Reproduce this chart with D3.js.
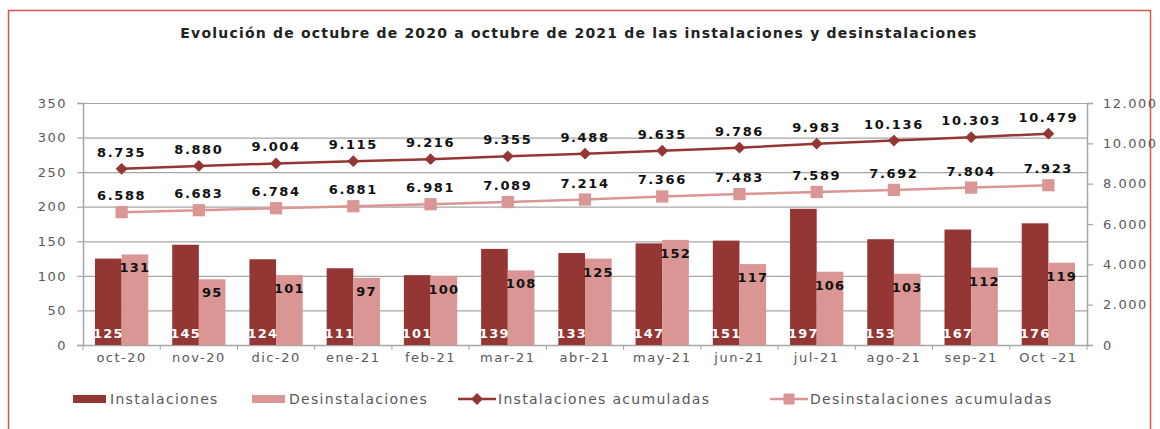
<!DOCTYPE html>
<html>
<head>
<meta charset="utf-8">
<script src="https://cdn.jsdelivr.net/npm/d3@7"></script>
<style>
  body { margin: 0; background: #fff; }
  svg { font-family: "DejaVu Sans", sans-serif; }
</style>
</head>
<body>
<div id="chart"></div>
<script>
// data
const categories = ["oct-20", "nov-20", "dic-20", "ene-21", "feb-21", "mar-21", "abr-21", "may-21", "jun-21", "jul-21", "ago-21", "sep-21", "Oct -21"]
const instalaciones = [125, 145, 124, 111, 101, 139, 133, 147, 151, 197, 153, 167, 176]
const desinstalaciones = [131, 95, 101, 97, 100, 108, 125, 152, 117, 106, 103, 112, 119]
const instAcumuladas = [8735, 8880, 9004, 9115, 9216, 9355, 9488, 9635, 9786, 9983, 10136, 10303, 10479]
const desAcumuladas = [6588, 6683, 6784, 6881, 6981, 7089, 7214, 7366, 7483, 7589, 7692, 7804, 7923]
const leftTicks = [0, 50, 100, 150, 200, 250, 300, 350]
const rightTicks = [0, 2000, 4000, 6000, 8000, 10000, 12000]
const seriesNames = ["Instalaciones", "Desinstalaciones", "Instalaciones acumuladas", "Desinstalaciones acumuladas"]
const title = "Evolución de octubre de 2020 a octubre de 2021 de las instalaciones y desinstalaciones"

const darkRed = "#943634"
const pink = "#d99694"
const textGrey = "#595959"
const gridGrey = "#a6a6a6"

const esLocale = d3.formatLocale({ decimal: ",", thousands: ".", grouping: [3], currency: ["", "€"] })
const fmt = esLocale.format(",d")

const width = 1160, height = 429
const plot = { left: 83, right: 1087, top: 103, bottom: 345 }

const svg = d3.select("#chart").append("svg")
    .attr("width", width)
    .attr("height", height)

// outer frame
svg.append("rect")
    .attr("x", 8.5).attr("y", 10.5)
    .attr("width", 1142).attr("height", 440)
    .attr("fill", "none")
    .attr("stroke", "#d9534f")
    .attr("stroke-width", 1.5)

svg.append("text")
    .attr("x", 579).attr("y", 38)
    .attr("text-anchor", "middle")
    .attr("font-weight", "bold")
    .attr("font-size", 14)
    .attr("letter-spacing", 1.2)
    .attr("fill", "#222")
    .text(title)

const xScale = d3.scaleBand()
    .domain(categories)
    .range([plot.left, plot.right])
    .paddingInner(0.31)
    .paddingOuter(0.155)

const xSub = d3.scaleBand()
    .domain(["inst", "des"])
    .range([0, xScale.bandwidth()])

const yLeft = d3.scaleLinear().domain([0, 350]).range([plot.bottom, plot.top])
const yRight = d3.scaleLinear().domain([0, 12000]).range([plot.bottom, plot.top])

// gridlines
svg.append("g")
    .selectAll("line")
    .data(leftTicks.slice(1))
    .join("line")
        .attr("x1", plot.left).attr("x2", plot.right)
        .attr("y1", d => yLeft(d) + 0.5).attr("y2", d => yLeft(d) + 0.5)
        .attr("stroke", gridGrey)
        .attr("stroke-width", 1.2)

// left axis
const leftAxis = svg.append("g")
    .attr("transform", `translate(${plot.left},0)`)
    .call(d3.axisLeft(yLeft).tickValues(leftTicks).tickSize(6).tickPadding(10))
// right axis
const rightAxis = svg.append("g")
    .attr("transform", `translate(${plot.right},0)`)
    .call(d3.axisRight(yRight).tickValues(rightTicks).tickSize(6).tickPadding(10).tickFormat(fmt))
// x axis, ticks at band boundaries
const xAxisG = svg.append("g")
    .attr("transform", `translate(0,${plot.bottom})`)
    .call(d3.axisBottom(xScale).tickSize(0).tickPadding(8))
xAxisG.selectAll(".bound")
    .data(d3.range(categories.length + 1))
    .join("line")
        .attr("class", "bound")
        .attr("x1", i => plot.left + i * (plot.right - plot.left) / categories.length)
        .attr("x2", i => plot.left + i * (plot.right - plot.left) / categories.length)
        .attr("y1", 0).attr("y2", 5)
        .attr("stroke", gridGrey)

for (const g of [leftAxis, rightAxis, xAxisG]) {
    g.selectAll("path.domain").attr("stroke", gridGrey).attr("stroke-width", 1.5)
    g.selectAll(".tick line").attr("stroke", gridGrey).attr("stroke-width", 1.2)
    g.selectAll("text").attr("fill", textGrey).attr("font-size", 13)
        .attr("letter-spacing", 1.5).attr("font-family", "DejaVu Sans")
}

// bars
const groups = svg.append("g")
    .selectAll("g")
    .data(categories)
    .join("g")
        .attr("transform", d => `translate(${xScale(d)},0)`)

groups.append("rect")
    .attr("x", xSub("inst"))
    .attr("width", xSub.bandwidth())
    .attr("y", (d, i) => yLeft(instalaciones[i]))
    .attr("height", (d, i) => plot.bottom - yLeft(instalaciones[i]))
    .attr("fill", darkRed)

groups.append("rect")
    .attr("x", xSub("des"))
    .attr("width", xSub.bandwidth())
    .attr("y", (d, i) => yLeft(desinstalaciones[i]))
    .attr("height", (d, i) => plot.bottom - yLeft(desinstalaciones[i]))
    .attr("fill", pink)

groups.append("text")
    .attr("x", xSub("inst") + xSub.bandwidth() / 2)
    .attr("y", plot.bottom - 7)
    .attr("text-anchor", "middle")
    .attr("font-weight", "bold")
    .attr("font-size", 13)
    .attr("letter-spacing", 1.2)
    .attr("fill", "#fff")
    .text((d, i) => instalaciones[i])

groups.append("text")
    .attr("x", xSub("des") + xSub.bandwidth() / 2)
    .attr("y", (d, i) => yLeft(desinstalaciones[i]) + 18)
    .attr("text-anchor", "middle")
    .attr("font-weight", "bold")
    .attr("font-size", 13)
    .attr("letter-spacing", 1.2)
    .attr("fill", "#111")
    .text((d, i) => desinstalaciones[i])

// lines
const cx = d => xScale(d) + xScale.bandwidth() / 2
const lineSeries = [
    { values: desAcumuladas, color: pink, marker: "square" },
    { values: instAcumuladas, color: darkRed, marker: "diamond" }
]
lineSeries.forEach(s => {
    const line = d3.line()
        .x((d, i) => cx(categories[i]))
        .y(d => yRight(d))
    svg.append("path")
        .datum(s.values)
        .attr("d", line)
        .attr("fill", "none")
        .attr("stroke", s.color)
        .attr("stroke-width", 2.5)
    const sym = s.marker === "square" ? d3.symbol().type(d3.symbolSquare).size(150) : d3.symbol().type(d3.symbolDiamond2).size(90)
    svg.append("g")
        .selectAll("path")
        .data(s.values)
        .join("path")
            .attr("d", sym)
            .attr("transform", (d, i) => `translate(${cx(categories[i])},${yRight(d)})`)
            .attr("fill", s.color)
    svg.append("g")
        .selectAll("text")
        .data(s.values)
        .join("text")
            .attr("x", (d, i) => cx(categories[i]))
            .attr("y", d => yRight(d) - 12)
            .attr("text-anchor", "middle")
            .attr("font-weight", "bold")
            .attr("font-size", 13)
            .attr("letter-spacing", 1.6)
            .attr("fill", "#111")
            .text(d => fmt(d))
})

// legend
const legendX = [73, 252, 458, 770]
const legend = svg.append("g").attr("transform", "translate(0,399)")
seriesNames.forEach((name, i) => {
    const g = legend.append("g").attr("transform", `translate(${legendX[i]},0)`)
    if (i < 2) {
        g.append("rect").attr("x", 0).attr("y", -4).attr("width", 33).attr("height", 8)
            .attr("fill", i === 0 ? darkRed : pink)
    } else {
        const c = i === 2 ? darkRed : pink
        g.append("line").attr("x1", 0).attr("x2", 38).attr("y1", 0).attr("y2", 0)
            .attr("stroke", c).attr("stroke-width", 2.5)
        g.append("path")
            .attr("d", i === 2 ? d3.symbol().type(d3.symbolDiamond2).size(90)() : d3.symbol().type(d3.symbolSquare).size(120)())
            .attr("transform", "translate(19,0)")
            .attr("fill", c)
    }
    g.append("text")
        .attr("x", i < 2 ? 37 : 40).attr("y", 5)
        .attr("font-size", 14)
        .attr("letter-spacing", 1.3)
        .attr("fill", textGrey)
        .text(name)
})
</script>
</body>
</html>
